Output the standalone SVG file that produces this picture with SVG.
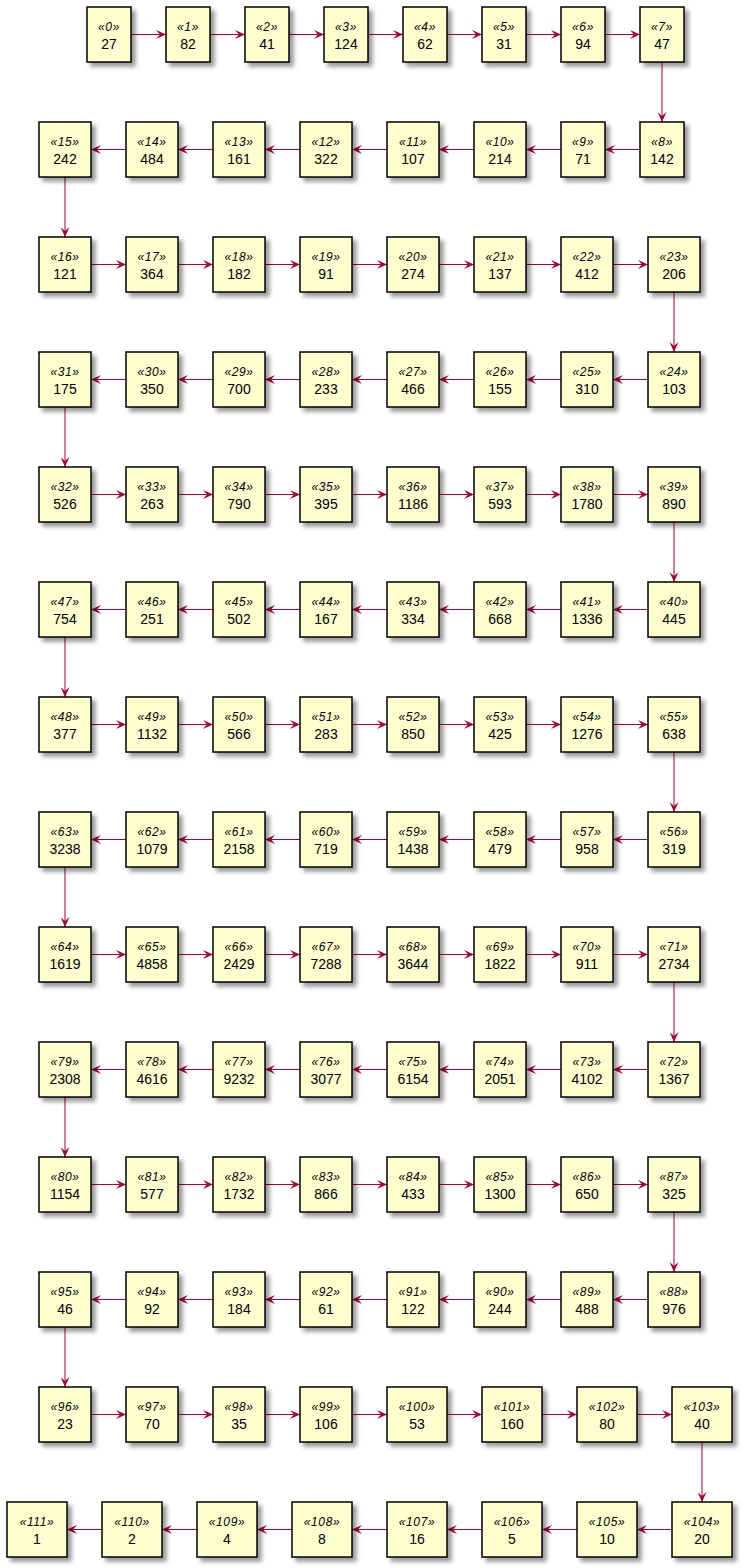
<svg xmlns="http://www.w3.org/2000/svg" width="743" height="1568" viewBox="0 0 743 1568">
<defs>
<filter id="sh" x="-20%" y="-20%" width="150%" height="150%">
<feGaussianBlur in="SourceAlpha" stdDeviation="2" result="b1"/>
<feColorMatrix in="b1" type="matrix" values="0 0 0 0 0 0 0 0 0 0 0 0 0 0 0 0 0 0 0.4 0" result="b2"/>
<feOffset in="b2" dx="4" dy="4" result="b3"/>
<feBlend in="SourceGraphic" in2="b3" mode="normal"/>
</filter>
<marker id="a" viewBox="0 0 10 9" refX="10" refY="4.5" markerWidth="10" markerHeight="9" orient="auto" markerUnits="userSpaceOnUse">
<path d="M0,0 L10,4.5 L0,9 L4,4.5 Z" fill="#A80036"/>
</marker>
</defs>
<style>
rect{fill:#FEFECE;stroke:#000;stroke-width:1.5;filter:url(#sh)}
.s{font-family:"Liberation Sans",Arial,sans-serif;font-style:italic;font-size:12px;text-anchor:middle;letter-spacing:0.6px;fill:#000}
.v{font-family:"Liberation Sans",Arial,sans-serif;font-size:14px;text-anchor:middle;fill:#000}
#edges line{stroke:#A80036;stroke-width:1;marker-end:url(#a)}
</style>
<rect x="0" y="0" width="743" height="1568" style="fill:#fff;stroke:none;filter:none"/>
<g id="edges">
<line x1="131" y1="34.5" x2="166" y2="34.5"/><line x1="210" y1="34.5" x2="245" y2="34.5"/><line x1="289" y1="34.5" x2="324" y2="34.5"/><line x1="368" y1="34.5" x2="403" y2="34.5"/><line x1="447" y1="34.5" x2="482" y2="34.5"/><line x1="526" y1="34.5" x2="561" y2="34.5"/><line x1="605" y1="34.5" x2="640" y2="34.5"/>
<line x1="662" y1="62" x2="662" y2="122"/>
<line x1="640" y1="149.5" x2="605" y2="149.5"/><line x1="561" y1="149.5" x2="526" y2="149.5"/><line x1="474" y1="149.5" x2="439" y2="149.5"/><line x1="387" y1="149.5" x2="352" y2="149.5"/><line x1="300" y1="149.5" x2="265" y2="149.5"/><line x1="213" y1="149.5" x2="178" y2="149.5"/><line x1="126" y1="149.5" x2="91" y2="149.5"/>
<line x1="65" y1="177" x2="65" y2="237"/>
<line x1="91" y1="264.5" x2="126" y2="264.5"/><line x1="178" y1="264.5" x2="213" y2="264.5"/><line x1="265" y1="264.5" x2="300" y2="264.5"/><line x1="352" y1="264.5" x2="387" y2="264.5"/><line x1="439" y1="264.5" x2="474" y2="264.5"/><line x1="526" y1="264.5" x2="561" y2="264.5"/><line x1="613" y1="264.5" x2="648" y2="264.5"/>
<line x1="674" y1="292" x2="674" y2="352"/>
<line x1="648" y1="379.5" x2="613" y2="379.5"/><line x1="561" y1="379.5" x2="526" y2="379.5"/><line x1="474" y1="379.5" x2="439" y2="379.5"/><line x1="387" y1="379.5" x2="352" y2="379.5"/><line x1="300" y1="379.5" x2="265" y2="379.5"/><line x1="213" y1="379.5" x2="178" y2="379.5"/><line x1="126" y1="379.5" x2="91" y2="379.5"/>
<line x1="65" y1="407" x2="65" y2="467"/>
<line x1="91" y1="494.5" x2="126" y2="494.5"/><line x1="178" y1="494.5" x2="213" y2="494.5"/><line x1="265" y1="494.5" x2="300" y2="494.5"/><line x1="352" y1="494.5" x2="387" y2="494.5"/><line x1="439" y1="494.5" x2="474" y2="494.5"/><line x1="526" y1="494.5" x2="561" y2="494.5"/><line x1="613" y1="494.5" x2="648" y2="494.5"/>
<line x1="674" y1="522" x2="674" y2="582"/>
<line x1="648" y1="609.5" x2="613" y2="609.5"/><line x1="561" y1="609.5" x2="526" y2="609.5"/><line x1="474" y1="609.5" x2="439" y2="609.5"/><line x1="387" y1="609.5" x2="352" y2="609.5"/><line x1="300" y1="609.5" x2="265" y2="609.5"/><line x1="213" y1="609.5" x2="178" y2="609.5"/><line x1="126" y1="609.5" x2="91" y2="609.5"/>
<line x1="65" y1="637" x2="65" y2="697"/>
<line x1="91" y1="724.5" x2="126" y2="724.5"/><line x1="178" y1="724.5" x2="213" y2="724.5"/><line x1="265" y1="724.5" x2="300" y2="724.5"/><line x1="352" y1="724.5" x2="387" y2="724.5"/><line x1="439" y1="724.5" x2="474" y2="724.5"/><line x1="526" y1="724.5" x2="561" y2="724.5"/><line x1="613" y1="724.5" x2="648" y2="724.5"/>
<line x1="674" y1="752" x2="674" y2="812"/>
<line x1="648" y1="839.5" x2="613" y2="839.5"/><line x1="561" y1="839.5" x2="526" y2="839.5"/><line x1="474" y1="839.5" x2="439" y2="839.5"/><line x1="387" y1="839.5" x2="352" y2="839.5"/><line x1="300" y1="839.5" x2="265" y2="839.5"/><line x1="213" y1="839.5" x2="178" y2="839.5"/><line x1="126" y1="839.5" x2="91" y2="839.5"/>
<line x1="65" y1="867" x2="65" y2="927"/>
<line x1="91" y1="954.5" x2="126" y2="954.5"/><line x1="178" y1="954.5" x2="213" y2="954.5"/><line x1="265" y1="954.5" x2="300" y2="954.5"/><line x1="352" y1="954.5" x2="387" y2="954.5"/><line x1="439" y1="954.5" x2="474" y2="954.5"/><line x1="526" y1="954.5" x2="561" y2="954.5"/><line x1="613" y1="954.5" x2="648" y2="954.5"/>
<line x1="674" y1="982" x2="674" y2="1042"/>
<line x1="648" y1="1069.5" x2="613" y2="1069.5"/><line x1="561" y1="1069.5" x2="526" y2="1069.5"/><line x1="474" y1="1069.5" x2="439" y2="1069.5"/><line x1="387" y1="1069.5" x2="352" y2="1069.5"/><line x1="300" y1="1069.5" x2="265" y2="1069.5"/><line x1="213" y1="1069.5" x2="178" y2="1069.5"/><line x1="126" y1="1069.5" x2="91" y2="1069.5"/>
<line x1="65" y1="1097" x2="65" y2="1157"/>
<line x1="91" y1="1184.5" x2="126" y2="1184.5"/><line x1="178" y1="1184.5" x2="213" y2="1184.5"/><line x1="265" y1="1184.5" x2="300" y2="1184.5"/><line x1="352" y1="1184.5" x2="387" y2="1184.5"/><line x1="439" y1="1184.5" x2="474" y2="1184.5"/><line x1="526" y1="1184.5" x2="561" y2="1184.5"/><line x1="613" y1="1184.5" x2="648" y2="1184.5"/>
<line x1="674" y1="1212" x2="674" y2="1272"/>
<line x1="648" y1="1299.5" x2="613" y2="1299.5"/><line x1="561" y1="1299.5" x2="526" y2="1299.5"/><line x1="474" y1="1299.5" x2="439" y2="1299.5"/><line x1="387" y1="1299.5" x2="352" y2="1299.5"/><line x1="300" y1="1299.5" x2="265" y2="1299.5"/><line x1="213" y1="1299.5" x2="178" y2="1299.5"/><line x1="126" y1="1299.5" x2="91" y2="1299.5"/>
<line x1="65" y1="1327" x2="65" y2="1387"/>
<line x1="91" y1="1414.5" x2="126" y2="1414.5"/><line x1="178" y1="1414.5" x2="213" y2="1414.5"/><line x1="265" y1="1414.5" x2="300" y2="1414.5"/><line x1="352" y1="1414.5" x2="387" y2="1414.5"/><line x1="447" y1="1414.5" x2="482" y2="1414.5"/><line x1="542" y1="1414.5" x2="577" y2="1414.5"/><line x1="637" y1="1414.5" x2="672" y2="1414.5"/>
<line x1="702" y1="1442" x2="702" y2="1502"/>
<line x1="672" y1="1529.5" x2="637" y2="1529.5"/><line x1="577" y1="1529.5" x2="542" y2="1529.5"/><line x1="482" y1="1529.5" x2="447" y2="1529.5"/><line x1="387" y1="1529.5" x2="352" y2="1529.5"/><line x1="292" y1="1529.5" x2="257" y2="1529.5"/><line x1="197" y1="1529.5" x2="162" y2="1529.5"/><line x1="102" y1="1529.5" x2="67" y2="1529.5"/>
</g>
<g id="n0" transform="translate(87,7)"><rect width="44" height="55"/><text class="s" x="22" y="24">«0»</text><text class="v" x="22" y="42">27</text></g>
<g id="n1" transform="translate(166,7)"><rect width="44" height="55"/><text class="s" x="22" y="24">«1»</text><text class="v" x="22" y="42">82</text></g>
<g id="n2" transform="translate(245,7)"><rect width="44" height="55"/><text class="s" x="22" y="24">«2»</text><text class="v" x="22" y="42">41</text></g>
<g id="n3" transform="translate(324,7)"><rect width="44" height="55"/><text class="s" x="22" y="24">«3»</text><text class="v" x="22" y="42">124</text></g>
<g id="n4" transform="translate(403,7)"><rect width="44" height="55"/><text class="s" x="22" y="24">«4»</text><text class="v" x="22" y="42">62</text></g>
<g id="n5" transform="translate(482,7)"><rect width="44" height="55"/><text class="s" x="22" y="24">«5»</text><text class="v" x="22" y="42">31</text></g>
<g id="n6" transform="translate(561,7)"><rect width="44" height="55"/><text class="s" x="22" y="24">«6»</text><text class="v" x="22" y="42">94</text></g>
<g id="n7" transform="translate(640,7)"><rect width="44" height="55"/><text class="s" x="22" y="24">«7»</text><text class="v" x="22" y="42">47</text></g>
<g id="n8" transform="translate(640,122)"><rect width="44" height="55"/><text class="s" x="22" y="24">«8»</text><text class="v" x="22" y="42">142</text></g>
<g id="n9" transform="translate(561,122)"><rect width="44" height="55"/><text class="s" x="22" y="24">«9»</text><text class="v" x="22" y="42">71</text></g>
<g id="n10" transform="translate(474,122)"><rect width="52" height="55"/><text class="s" x="26" y="24">«10»</text><text class="v" x="26" y="42">214</text></g>
<g id="n11" transform="translate(387,122)"><rect width="52" height="55"/><text class="s" x="26" y="24">«11»</text><text class="v" x="26" y="42">107</text></g>
<g id="n12" transform="translate(300,122)"><rect width="52" height="55"/><text class="s" x="26" y="24">«12»</text><text class="v" x="26" y="42">322</text></g>
<g id="n13" transform="translate(213,122)"><rect width="52" height="55"/><text class="s" x="26" y="24">«13»</text><text class="v" x="26" y="42">161</text></g>
<g id="n14" transform="translate(126,122)"><rect width="52" height="55"/><text class="s" x="26" y="24">«14»</text><text class="v" x="26" y="42">484</text></g>
<g id="n15" transform="translate(39,122)"><rect width="52" height="55"/><text class="s" x="26" y="24">«15»</text><text class="v" x="26" y="42">242</text></g>
<g id="n16" transform="translate(39,237)"><rect width="52" height="55"/><text class="s" x="26" y="24">«16»</text><text class="v" x="26" y="42">121</text></g>
<g id="n17" transform="translate(126,237)"><rect width="52" height="55"/><text class="s" x="26" y="24">«17»</text><text class="v" x="26" y="42">364</text></g>
<g id="n18" transform="translate(213,237)"><rect width="52" height="55"/><text class="s" x="26" y="24">«18»</text><text class="v" x="26" y="42">182</text></g>
<g id="n19" transform="translate(300,237)"><rect width="52" height="55"/><text class="s" x="26" y="24">«19»</text><text class="v" x="26" y="42">91</text></g>
<g id="n20" transform="translate(387,237)"><rect width="52" height="55"/><text class="s" x="26" y="24">«20»</text><text class="v" x="26" y="42">274</text></g>
<g id="n21" transform="translate(474,237)"><rect width="52" height="55"/><text class="s" x="26" y="24">«21»</text><text class="v" x="26" y="42">137</text></g>
<g id="n22" transform="translate(561,237)"><rect width="52" height="55"/><text class="s" x="26" y="24">«22»</text><text class="v" x="26" y="42">412</text></g>
<g id="n23" transform="translate(648,237)"><rect width="52" height="55"/><text class="s" x="26" y="24">«23»</text><text class="v" x="26" y="42">206</text></g>
<g id="n24" transform="translate(648,352)"><rect width="52" height="55"/><text class="s" x="26" y="24">«24»</text><text class="v" x="26" y="42">103</text></g>
<g id="n25" transform="translate(561,352)"><rect width="52" height="55"/><text class="s" x="26" y="24">«25»</text><text class="v" x="26" y="42">310</text></g>
<g id="n26" transform="translate(474,352)"><rect width="52" height="55"/><text class="s" x="26" y="24">«26»</text><text class="v" x="26" y="42">155</text></g>
<g id="n27" transform="translate(387,352)"><rect width="52" height="55"/><text class="s" x="26" y="24">«27»</text><text class="v" x="26" y="42">466</text></g>
<g id="n28" transform="translate(300,352)"><rect width="52" height="55"/><text class="s" x="26" y="24">«28»</text><text class="v" x="26" y="42">233</text></g>
<g id="n29" transform="translate(213,352)"><rect width="52" height="55"/><text class="s" x="26" y="24">«29»</text><text class="v" x="26" y="42">700</text></g>
<g id="n30" transform="translate(126,352)"><rect width="52" height="55"/><text class="s" x="26" y="24">«30»</text><text class="v" x="26" y="42">350</text></g>
<g id="n31" transform="translate(39,352)"><rect width="52" height="55"/><text class="s" x="26" y="24">«31»</text><text class="v" x="26" y="42">175</text></g>
<g id="n32" transform="translate(39,467)"><rect width="52" height="55"/><text class="s" x="26" y="24">«32»</text><text class="v" x="26" y="42">526</text></g>
<g id="n33" transform="translate(126,467)"><rect width="52" height="55"/><text class="s" x="26" y="24">«33»</text><text class="v" x="26" y="42">263</text></g>
<g id="n34" transform="translate(213,467)"><rect width="52" height="55"/><text class="s" x="26" y="24">«34»</text><text class="v" x="26" y="42">790</text></g>
<g id="n35" transform="translate(300,467)"><rect width="52" height="55"/><text class="s" x="26" y="24">«35»</text><text class="v" x="26" y="42">395</text></g>
<g id="n36" transform="translate(387,467)"><rect width="52" height="55"/><text class="s" x="26" y="24">«36»</text><text class="v" x="26" y="42">1186</text></g>
<g id="n37" transform="translate(474,467)"><rect width="52" height="55"/><text class="s" x="26" y="24">«37»</text><text class="v" x="26" y="42">593</text></g>
<g id="n38" transform="translate(561,467)"><rect width="52" height="55"/><text class="s" x="26" y="24">«38»</text><text class="v" x="26" y="42">1780</text></g>
<g id="n39" transform="translate(648,467)"><rect width="52" height="55"/><text class="s" x="26" y="24">«39»</text><text class="v" x="26" y="42">890</text></g>
<g id="n40" transform="translate(648,582)"><rect width="52" height="55"/><text class="s" x="26" y="24">«40»</text><text class="v" x="26" y="42">445</text></g>
<g id="n41" transform="translate(561,582)"><rect width="52" height="55"/><text class="s" x="26" y="24">«41»</text><text class="v" x="26" y="42">1336</text></g>
<g id="n42" transform="translate(474,582)"><rect width="52" height="55"/><text class="s" x="26" y="24">«42»</text><text class="v" x="26" y="42">668</text></g>
<g id="n43" transform="translate(387,582)"><rect width="52" height="55"/><text class="s" x="26" y="24">«43»</text><text class="v" x="26" y="42">334</text></g>
<g id="n44" transform="translate(300,582)"><rect width="52" height="55"/><text class="s" x="26" y="24">«44»</text><text class="v" x="26" y="42">167</text></g>
<g id="n45" transform="translate(213,582)"><rect width="52" height="55"/><text class="s" x="26" y="24">«45»</text><text class="v" x="26" y="42">502</text></g>
<g id="n46" transform="translate(126,582)"><rect width="52" height="55"/><text class="s" x="26" y="24">«46»</text><text class="v" x="26" y="42">251</text></g>
<g id="n47" transform="translate(39,582)"><rect width="52" height="55"/><text class="s" x="26" y="24">«47»</text><text class="v" x="26" y="42">754</text></g>
<g id="n48" transform="translate(39,697)"><rect width="52" height="55"/><text class="s" x="26" y="24">«48»</text><text class="v" x="26" y="42">377</text></g>
<g id="n49" transform="translate(126,697)"><rect width="52" height="55"/><text class="s" x="26" y="24">«49»</text><text class="v" x="26" y="42">1132</text></g>
<g id="n50" transform="translate(213,697)"><rect width="52" height="55"/><text class="s" x="26" y="24">«50»</text><text class="v" x="26" y="42">566</text></g>
<g id="n51" transform="translate(300,697)"><rect width="52" height="55"/><text class="s" x="26" y="24">«51»</text><text class="v" x="26" y="42">283</text></g>
<g id="n52" transform="translate(387,697)"><rect width="52" height="55"/><text class="s" x="26" y="24">«52»</text><text class="v" x="26" y="42">850</text></g>
<g id="n53" transform="translate(474,697)"><rect width="52" height="55"/><text class="s" x="26" y="24">«53»</text><text class="v" x="26" y="42">425</text></g>
<g id="n54" transform="translate(561,697)"><rect width="52" height="55"/><text class="s" x="26" y="24">«54»</text><text class="v" x="26" y="42">1276</text></g>
<g id="n55" transform="translate(648,697)"><rect width="52" height="55"/><text class="s" x="26" y="24">«55»</text><text class="v" x="26" y="42">638</text></g>
<g id="n56" transform="translate(648,812)"><rect width="52" height="55"/><text class="s" x="26" y="24">«56»</text><text class="v" x="26" y="42">319</text></g>
<g id="n57" transform="translate(561,812)"><rect width="52" height="55"/><text class="s" x="26" y="24">«57»</text><text class="v" x="26" y="42">958</text></g>
<g id="n58" transform="translate(474,812)"><rect width="52" height="55"/><text class="s" x="26" y="24">«58»</text><text class="v" x="26" y="42">479</text></g>
<g id="n59" transform="translate(387,812)"><rect width="52" height="55"/><text class="s" x="26" y="24">«59»</text><text class="v" x="26" y="42">1438</text></g>
<g id="n60" transform="translate(300,812)"><rect width="52" height="55"/><text class="s" x="26" y="24">«60»</text><text class="v" x="26" y="42">719</text></g>
<g id="n61" transform="translate(213,812)"><rect width="52" height="55"/><text class="s" x="26" y="24">«61»</text><text class="v" x="26" y="42">2158</text></g>
<g id="n62" transform="translate(126,812)"><rect width="52" height="55"/><text class="s" x="26" y="24">«62»</text><text class="v" x="26" y="42">1079</text></g>
<g id="n63" transform="translate(39,812)"><rect width="52" height="55"/><text class="s" x="26" y="24">«63»</text><text class="v" x="26" y="42">3238</text></g>
<g id="n64" transform="translate(39,927)"><rect width="52" height="55"/><text class="s" x="26" y="24">«64»</text><text class="v" x="26" y="42">1619</text></g>
<g id="n65" transform="translate(126,927)"><rect width="52" height="55"/><text class="s" x="26" y="24">«65»</text><text class="v" x="26" y="42">4858</text></g>
<g id="n66" transform="translate(213,927)"><rect width="52" height="55"/><text class="s" x="26" y="24">«66»</text><text class="v" x="26" y="42">2429</text></g>
<g id="n67" transform="translate(300,927)"><rect width="52" height="55"/><text class="s" x="26" y="24">«67»</text><text class="v" x="26" y="42">7288</text></g>
<g id="n68" transform="translate(387,927)"><rect width="52" height="55"/><text class="s" x="26" y="24">«68»</text><text class="v" x="26" y="42">3644</text></g>
<g id="n69" transform="translate(474,927)"><rect width="52" height="55"/><text class="s" x="26" y="24">«69»</text><text class="v" x="26" y="42">1822</text></g>
<g id="n70" transform="translate(561,927)"><rect width="52" height="55"/><text class="s" x="26" y="24">«70»</text><text class="v" x="26" y="42">911</text></g>
<g id="n71" transform="translate(648,927)"><rect width="52" height="55"/><text class="s" x="26" y="24">«71»</text><text class="v" x="26" y="42">2734</text></g>
<g id="n72" transform="translate(648,1042)"><rect width="52" height="55"/><text class="s" x="26" y="24">«72»</text><text class="v" x="26" y="42">1367</text></g>
<g id="n73" transform="translate(561,1042)"><rect width="52" height="55"/><text class="s" x="26" y="24">«73»</text><text class="v" x="26" y="42">4102</text></g>
<g id="n74" transform="translate(474,1042)"><rect width="52" height="55"/><text class="s" x="26" y="24">«74»</text><text class="v" x="26" y="42">2051</text></g>
<g id="n75" transform="translate(387,1042)"><rect width="52" height="55"/><text class="s" x="26" y="24">«75»</text><text class="v" x="26" y="42">6154</text></g>
<g id="n76" transform="translate(300,1042)"><rect width="52" height="55"/><text class="s" x="26" y="24">«76»</text><text class="v" x="26" y="42">3077</text></g>
<g id="n77" transform="translate(213,1042)"><rect width="52" height="55"/><text class="s" x="26" y="24">«77»</text><text class="v" x="26" y="42">9232</text></g>
<g id="n78" transform="translate(126,1042)"><rect width="52" height="55"/><text class="s" x="26" y="24">«78»</text><text class="v" x="26" y="42">4616</text></g>
<g id="n79" transform="translate(39,1042)"><rect width="52" height="55"/><text class="s" x="26" y="24">«79»</text><text class="v" x="26" y="42">2308</text></g>
<g id="n80" transform="translate(39,1157)"><rect width="52" height="55"/><text class="s" x="26" y="24">«80»</text><text class="v" x="26" y="42">1154</text></g>
<g id="n81" transform="translate(126,1157)"><rect width="52" height="55"/><text class="s" x="26" y="24">«81»</text><text class="v" x="26" y="42">577</text></g>
<g id="n82" transform="translate(213,1157)"><rect width="52" height="55"/><text class="s" x="26" y="24">«82»</text><text class="v" x="26" y="42">1732</text></g>
<g id="n83" transform="translate(300,1157)"><rect width="52" height="55"/><text class="s" x="26" y="24">«83»</text><text class="v" x="26" y="42">866</text></g>
<g id="n84" transform="translate(387,1157)"><rect width="52" height="55"/><text class="s" x="26" y="24">«84»</text><text class="v" x="26" y="42">433</text></g>
<g id="n85" transform="translate(474,1157)"><rect width="52" height="55"/><text class="s" x="26" y="24">«85»</text><text class="v" x="26" y="42">1300</text></g>
<g id="n86" transform="translate(561,1157)"><rect width="52" height="55"/><text class="s" x="26" y="24">«86»</text><text class="v" x="26" y="42">650</text></g>
<g id="n87" transform="translate(648,1157)"><rect width="52" height="55"/><text class="s" x="26" y="24">«87»</text><text class="v" x="26" y="42">325</text></g>
<g id="n88" transform="translate(648,1272)"><rect width="52" height="55"/><text class="s" x="26" y="24">«88»</text><text class="v" x="26" y="42">976</text></g>
<g id="n89" transform="translate(561,1272)"><rect width="52" height="55"/><text class="s" x="26" y="24">«89»</text><text class="v" x="26" y="42">488</text></g>
<g id="n90" transform="translate(474,1272)"><rect width="52" height="55"/><text class="s" x="26" y="24">«90»</text><text class="v" x="26" y="42">244</text></g>
<g id="n91" transform="translate(387,1272)"><rect width="52" height="55"/><text class="s" x="26" y="24">«91»</text><text class="v" x="26" y="42">122</text></g>
<g id="n92" transform="translate(300,1272)"><rect width="52" height="55"/><text class="s" x="26" y="24">«92»</text><text class="v" x="26" y="42">61</text></g>
<g id="n93" transform="translate(213,1272)"><rect width="52" height="55"/><text class="s" x="26" y="24">«93»</text><text class="v" x="26" y="42">184</text></g>
<g id="n94" transform="translate(126,1272)"><rect width="52" height="55"/><text class="s" x="26" y="24">«94»</text><text class="v" x="26" y="42">92</text></g>
<g id="n95" transform="translate(39,1272)"><rect width="52" height="55"/><text class="s" x="26" y="24">«95»</text><text class="v" x="26" y="42">46</text></g>
<g id="n96" transform="translate(39,1387)"><rect width="52" height="55"/><text class="s" x="26" y="24">«96»</text><text class="v" x="26" y="42">23</text></g>
<g id="n97" transform="translate(126,1387)"><rect width="52" height="55"/><text class="s" x="26" y="24">«97»</text><text class="v" x="26" y="42">70</text></g>
<g id="n98" transform="translate(213,1387)"><rect width="52" height="55"/><text class="s" x="26" y="24">«98»</text><text class="v" x="26" y="42">35</text></g>
<g id="n99" transform="translate(300,1387)"><rect width="52" height="55"/><text class="s" x="26" y="24">«99»</text><text class="v" x="26" y="42">106</text></g>
<g id="n100" transform="translate(387,1387)"><rect width="60" height="55"/><text class="s" x="30" y="24">«100»</text><text class="v" x="30" y="42">53</text></g>
<g id="n101" transform="translate(482,1387)"><rect width="60" height="55"/><text class="s" x="30" y="24">«101»</text><text class="v" x="30" y="42">160</text></g>
<g id="n102" transform="translate(577,1387)"><rect width="60" height="55"/><text class="s" x="30" y="24">«102»</text><text class="v" x="30" y="42">80</text></g>
<g id="n103" transform="translate(672,1387)"><rect width="60" height="55"/><text class="s" x="30" y="24">«103»</text><text class="v" x="30" y="42">40</text></g>
<g id="n104" transform="translate(672,1502)"><rect width="60" height="55"/><text class="s" x="30" y="24">«104»</text><text class="v" x="30" y="42">20</text></g>
<g id="n105" transform="translate(577,1502)"><rect width="60" height="55"/><text class="s" x="30" y="24">«105»</text><text class="v" x="30" y="42">10</text></g>
<g id="n106" transform="translate(482,1502)"><rect width="60" height="55"/><text class="s" x="30" y="24">«106»</text><text class="v" x="30" y="42">5</text></g>
<g id="n107" transform="translate(387,1502)"><rect width="60" height="55"/><text class="s" x="30" y="24">«107»</text><text class="v" x="30" y="42">16</text></g>
<g id="n108" transform="translate(292,1502)"><rect width="60" height="55"/><text class="s" x="30" y="24">«108»</text><text class="v" x="30" y="42">8</text></g>
<g id="n109" transform="translate(197,1502)"><rect width="60" height="55"/><text class="s" x="30" y="24">«109»</text><text class="v" x="30" y="42">4</text></g>
<g id="n110" transform="translate(102,1502)"><rect width="60" height="55"/><text class="s" x="30" y="24">«110»</text><text class="v" x="30" y="42">2</text></g>
<g id="n111" transform="translate(7,1502)"><rect width="60" height="55"/><text class="s" x="30" y="24">«111»</text><text class="v" x="30" y="42">1</text></g>
</svg>
